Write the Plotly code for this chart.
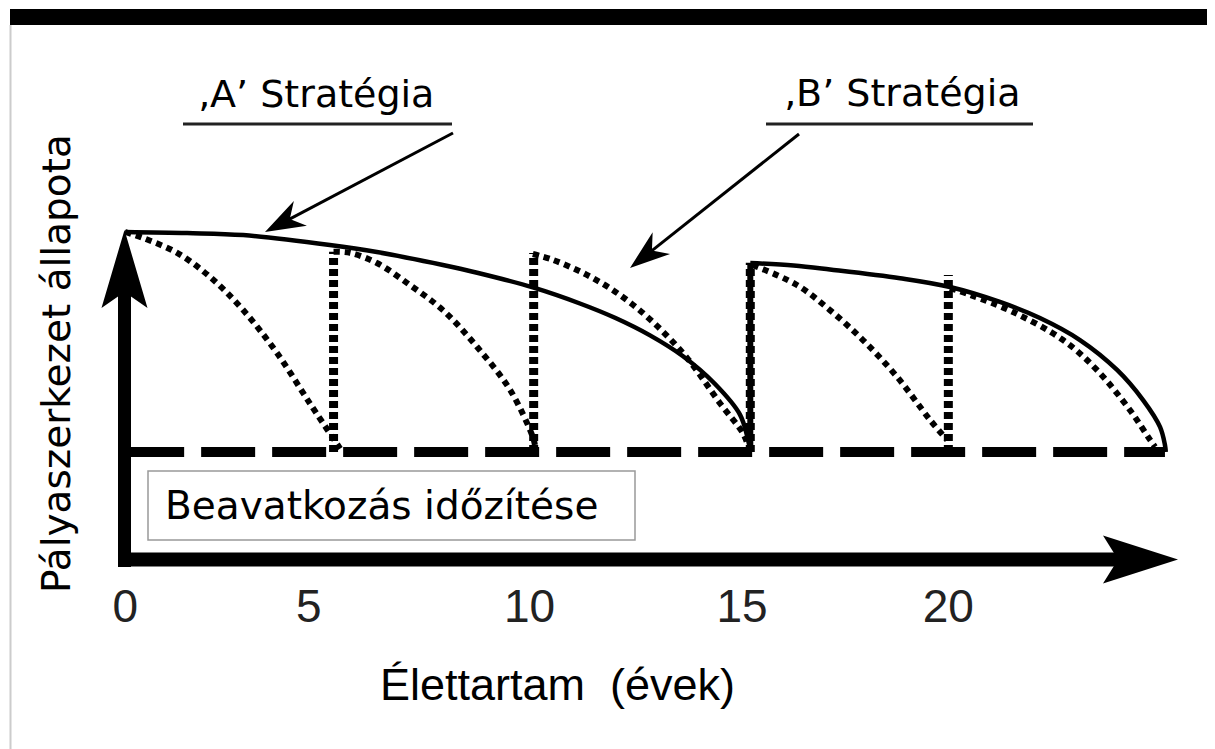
import math
import plotly.graph_objects as go

# Pályaszerkezet állapota az élettartam (évek) függvényében
# állapot: 0 = beavatkozási szint, 100 = új pályaszerkezet

# ,A' stratégia - folytonos vonal (egy nagy beavatkozás a 15. évben)
a1_ev = [0, 1.5, 2.86, 4.96, 6.1, 7.7, 8.53, 9.88, 11.02, 11.87, 12.72, 13.52, 14.29, 14.9, 15.09, 15.15]
a1_allapot = [100, 99.5, 98.6, 94.1, 90.9, 85.0, 81.5, 74.8, 67.5, 61.0, 53.0, 43.5, 31.0, 17.0, 6.0, 0]
a2_ev = [15.15, 16.2, 17.08, 18.78, 19.99, 21.2, 22.17, 23.14, 24.04, 24.67, 25.08, 25.2, 25.22]
a2_allapot = [85.9, 84.8, 83.0, 79.0, 75.0, 68.2, 60.9, 50.9, 37.3, 23.6, 11.4, 3.2, 0]
beavatkozas_a_ev = [15.15]
beavatkozas_a_szint = [85.9]

# ,B' stratégia - pontozott vonal (gyakori kisebb beavatkozások)
b_ciklusok_ev = [
    [0, 0.43, 1.26, 2.06, 2.86, 3.68, 4.48, 5.21],
    [5.05, 5.45, 6.1, 6.9, 7.7, 8.53, 9.33, 9.88, 9.93],
    [9.88, 10.37, 11.19, 11.99, 12.79, 13.62, 14.41, 14.97, 15.09],
    [15.2, 16.28, 17.08, 17.88, 18.71, 19.51, 19.92],
    [19.99, 20.48, 21.52, 22.73, 23.55, 24.35, 24.84, 24.96],
]
b_ciklusok_allapot = [
    [100, 97.3, 90.5, 79.5, 64.5, 45.0, 22.0, 1.5],
    [91, 90.5, 85.9, 75.9, 64.5, 47.7, 28.2, 6.8, 3.2],
    [90, 87.3, 80.5, 71.4, 59.1, 42.7, 22.3, 8.6, 3.2],
    [85, 75.9, 64.5, 50.9, 34.1, 14.5, 5.5],
    [74.5, 71.4, 63.6, 50.9, 37.3, 19.1, 5.5, 2.3],
]
beavatkozas_b_ev = [5.05, 9.9, 15.15, 19.95]
beavatkozas_b_szint = [91, 90.5, 86, 80.5]

# beavatkozási küszöb (szaggatott vonal)
kuszob_ev = [0.12, 25.2]
kuszob_szint = [0, 0]

tick_ev = [0, 4.45, 9.8, 14.95, 19.95]
tick_szoveg = ['0', '5', '10', '15', '20']

# a böngésző 8 px-es body margóját levonjuk
OX, OY = 8, 8
W, H = 1215 - OX, 749 - OY
PB = 575 - OY  # a rajzterület alja (px)
X0, XS = 125.2 - OX, 41.26   # x = 0 helye és px/év
Y0, YS = 452 - OY, 2.2       # állapot = 0 helye és px/egység


def px(x):
    return (x - OX) / W


def py(y):
    return (PB - (y - OY)) / PB


def nyilhegy(tail, tip, hossz, felszel, bemelyedes):
    dx, dy = tip[0] - tail[0], tip[1] - tail[1]
    d = math.hypot(dx, dy)
    ux, uy = dx / d, dy / d
    nx, ny = -uy, ux
    pts = [
        tip,
        (tip[0] - ux * hossz + nx * felszel, tip[1] - uy * hossz + ny * felszel),
        (tip[0] - ux * bemelyedes, tip[1] - uy * bemelyedes),
        (tip[0] - ux * hossz - nx * felszel, tip[1] - uy * hossz - ny * felszel),
    ]
    path = 'M' + ' L'.join(f'{px(a):.5f},{py(b):.5f}' for a, b in pts) + ' Z'
    vege = (tip[0] - ux * bemelyedes * 0.8, tip[1] - uy * bemelyedes * 0.8)
    return path, vege


verdana = 'DejaVu Sans, Verdana, sans-serif'
arial = 'Liberation Sans, Arial, sans-serif'

fig = go.Figure()

fig.add_trace(go.Scatter(x=kuszob_ev, y=kuszob_szint, mode='lines',
                         line=dict(color='black', width=10, dash='54px,17px')))

for ev, al in zip(b_ciklusok_ev, b_ciklusok_allapot):
    fig.add_trace(go.Scatter(x=ev, y=al, mode='lines',
                             line=dict(color='black', width=6, dash='6px,5px', shape='spline')))
for ev, szint in zip(beavatkozas_b_ev, beavatkozas_b_szint):
    fig.add_trace(go.Scatter(x=[ev, ev], y=[0, szint], mode='lines',
                             line=dict(color='black', width=9, dash='7px,4px')))

for ev, szint in zip(beavatkozas_a_ev, beavatkozas_a_szint):
    fig.add_trace(go.Scatter(x=[ev, ev], y=[0, szint], mode='lines',
                             line=dict(color='black', width=6)))
fig.add_trace(go.Scatter(x=a1_ev, y=a1_allapot, mode='lines',
                         line=dict(color='black', width=4.5, shape='spline')))
fig.add_trace(go.Scatter(x=a2_ev, y=a2_allapot, mode='lines',
                         line=dict(color='black', width=4.5, shape='spline')))

shapes = [
    # fekete sáv felül és szürke szegély bal oldalt
    dict(type='rect', xref='paper', yref='paper', x0=px(10), x1=px(1215), y0=py(25), y1=py(9),
         fillcolor='black', line=dict(width=0)),
    dict(type='line', xref='paper', yref='paper', x0=px(10.5), x1=px(10.5), y0=py(25), y1=py(749),
         line=dict(color='#cccccc', width=2)),
    # tengelynyilak
    dict(type='line', xref='paper', yref='paper', x0=px(124.5), x1=px(124.5), y0=py(567), y1=py(290),
         line=dict(color='black', width=13)),
    dict(type='line', xref='paper', yref='paper', x0=px(118), x1=px(1120), y0=py(559.5), y1=py(559.5),
         line=dict(color='black', width=14)),
    # aláhúzások
    dict(type='line', xref='paper', yref='paper', x0=px(183), x1=px(452), y0=py(124), y1=py(124),
         line=dict(color='#222222', width=3)),
    dict(type='line', xref='paper', yref='paper', x0=px(766), x1=px(1033), y0=py(124), y1=py(124),
         line=dict(color='#222222', width=3)),
    # keret a felirat körül
    dict(type='rect', xref='paper', yref='paper', x0=px(148), x1=px(635), y0=py(540), y1=py(471),
         line=dict(color='#999999', width=1.5)),
]

for tail, tip, L, fw, n in [((124.5, 300), (124.5, 230), 78, 23, 62),
                            ((1100, 559.5), (1178, 559.5), 75, 24, 60)]:
    path, _ = nyilhegy(tail, tip, L, fw, n)
    shapes.append(dict(type='path', xref='paper', yref='paper', path=path,
                       fillcolor='black', line=dict(width=0)))

for tail, tip in [((453, 133), (265, 232)), ((799, 134), (630, 268))]:
    path, vege = nyilhegy(tail, tip, 40, 14, 28)
    shapes.append(dict(type='line', xref='paper', yref='paper', x0=px(tail[0]), y0=py(tail[1]),
                       x1=px(vege[0]), y1=py(vege[1]), line=dict(color='black', width=3)))
    shapes.append(dict(type='path', xref='paper', yref='paper', path=path,
                       fillcolor='black', line=dict(width=0)))

annotations = [
    dict(text='\u201aA\u2019 Stratégia', x=px(316), y=py(94), font=dict(family=verdana, size=38, color='black')),
    dict(text='\u201aB\u2019 Stratégia', x=px(902), y=py(93), font=dict(family=verdana, size=38, color='black')),
    dict(text='Beavatkozás időzítése', x=px(163), y=py(505), xanchor='left',
         font=dict(family=verdana, size=39, color='black')),
    dict(text='Pályaszerkezet állapota', x=px(56), y=py(364), textangle=-90,
         font=dict(family=verdana, size=39, color='black')),
    dict(text='Élettartam\u00a0 (évek)', x=px(557), y=py(684),
         font=dict(family=arial, size=45, color='black')),
]
for a in annotations:
    a.update(xref='paper', yref='paper', showarrow=False)
    a.setdefault('xanchor', 'center')
    a.setdefault('yanchor', 'middle')

fig.update_layout(
    width=W, height=H,
    margin=dict(l=0, r=0, t=0, b=H - PB, pad=0, autoexpand=False),
    paper_bgcolor='white', plot_bgcolor='white',
    showlegend=False,
    shapes=shapes,
    annotations=annotations,
    xaxis=dict(range=[-X0 / XS, (W - X0) / XS], showgrid=False, zeroline=False,
               showline=False, ticks='', tickvals=tick_ev, ticktext=tick_szoveg, automargin=False,
               tickfont=dict(family=arial, size=46, color='#222222')),
    yaxis=dict(range=[(Y0 - PB) / YS, Y0 / YS], showgrid=False, zeroline=False,
               showline=False, showticklabels=False, ticks='', automargin=False),
)

fig.write_html('out.html')
